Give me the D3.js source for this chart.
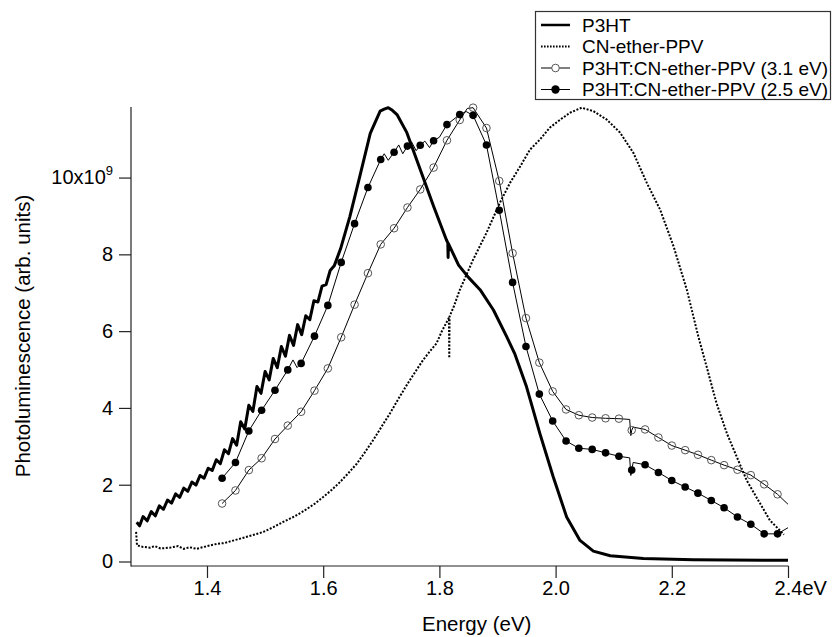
<!DOCTYPE html>
<html>
<head>
<meta charset="utf-8">
<script src="https://cdn.jsdelivr.net/npm/d3@7/dist/d3.min.js"></script>
<style>
body { margin: 0; background: #fff; }
text { font-family: "Liberation Sans", Arial, sans-serif; fill: #000; }
</style>
</head>
<body>
<div id="chart"></div>
<script>
// all intensities in units of 1e9 (arb. units)
var p3htE = [1.279, 1.284, 1.290, 1.297, 1.304, 1.311, 1.318, 1.325, 1.332, 1.339,
    1.346, 1.353, 1.360, 1.367, 1.374, 1.381, 1.388, 1.395, 1.402, 1.409,
    1.416, 1.423, 1.430, 1.437, 1.444, 1.451, 1.458, 1.465, 1.472, 1.479,
    1.486, 1.493, 1.500, 1.507, 1.514, 1.521, 1.528, 1.535, 1.542, 1.549,
    1.556, 1.563, 1.570, 1.577, 1.584, 1.591, 1.598, 1.605, 1.612, 1.619,
    1.630, 1.646, 1.663, 1.681, 1.698, 1.705, 1.712, 1.719, 1.727, 1.744,
    1.767, 1.790, 1.812, 1.8145, 1.815, 1.8155, 1.833, 1.850, 1.870, 1.893,
    1.916, 1.930, 1.950, 1.973, 1.996, 2.019, 2.042, 2.065, 2.094, 2.151,
    2.237, 2.400];
var p3htV = [1.02, 0.93, 1.17, 1.06, 1.30, 1.19, 1.45, 1.36, 1.60, 1.52,
    1.76, 1.67, 1.91, 1.83, 2.07, 1.99, 2.24, 2.17, 2.43, 2.37,
    2.65, 2.55, 2.91, 2.81, 3.20, 3.03, 3.64, 3.45, 4.07, 3.91,
    4.56, 4.38, 4.95, 4.73, 5.29, 5.05, 5.60, 5.35, 5.89, 5.63,
    6.17, 5.91, 6.40, 6.30, 6.79, 6.76, 7.17, 7.21, 7.58, 7.70,
    8.15, 8.99, 10.03, 11.15, 11.73, 11.78, 11.82, 11.75, 11.64, 11.17,
    10.21, 9.25, 8.38, 8.30, 7.92, 8.28, 7.72, 7.40, 7.08, 6.55,
    5.85, 5.40, 4.55, 3.33, 2.20, 1.16, 0.55, 0.27, 0.15, 0.08,
    0.045, 0.03];

var cnE = [1.278, 1.2795, 1.290, 1.302, 1.310, 1.320, 1.336, 1.350, 1.360, 1.370,
    1.382, 1.400, 1.417, 1.430, 1.451, 1.470, 1.497, 1.515, 1.531, 1.550,
    1.566, 1.585, 1.600, 1.615, 1.629, 1.645, 1.658, 1.672, 1.686, 1.700,
    1.715, 1.730, 1.744, 1.758, 1.772, 1.785, 1.795, 1.804, 1.812, 1.8165,
    1.817, 1.8175, 1.825, 1.835, 1.858, 1.881, 1.904, 1.9215, 1.939, 1.956,
    1.973, 1.990, 2.008, 2.025, 2.045, 2.065, 2.088, 2.111, 2.134, 2.157,
    2.180, 2.203, 2.226, 2.246, 2.260, 2.277, 2.295, 2.312, 2.329, 2.352,
    2.369, 2.386, 2.393];
var cnV = [0.77, 0.42, 0.38, 0.36, 0.40, 0.34, 0.36, 0.40, 0.33, 0.37,
    0.33, 0.40, 0.46, 0.48, 0.57, 0.65, 0.77, 0.90, 1.03, 1.17,
    1.31, 1.50, 1.68, 1.87, 2.07, 2.33, 2.55, 2.85, 3.16, 3.50,
    3.86, 4.25, 4.60, 4.93, 5.25, 5.50, 5.68, 5.99, 6.22, 6.35,
    5.30, 6.38, 6.65, 7.07, 7.86, 8.56, 9.34, 9.86, 10.29, 10.73,
    10.99, 11.30, 11.51, 11.69, 11.82, 11.73, 11.51, 11.17, 10.64, 9.86,
    9.16, 8.21, 7.07, 5.84, 5.07, 4.12, 3.33, 2.72, 2.11, 1.51,
    1.07, 0.81, 0.70];

// marker positions shared by both blend spectra
var markerE = [1.426, 1.449, 1.472, 1.494, 1.517, 1.539, 1.562, 1.585, 1.608, 1.631,
    1.654, 1.677, 1.699, 1.722, 1.745, 1.767, 1.790, 1.813, 1.835, 1.858,
    1.881, 1.903, 1.926, 1.949, 1.972, 1.995, 2.018, 2.040, 2.063, 2.086,
    2.109, 2.131, 2.154, 2.177, 2.200, 2.223, 2.245, 2.268, 2.290, 2.313,
    2.336, 2.359, 2.382];
var open31V = [1.51, 1.85, 2.38, 2.69, 3.19, 3.54, 3.90, 4.45, 5.03, 5.84,
    6.69, 7.51, 8.26, 8.68, 9.22, 9.69, 10.26, 10.97, 11.50, 11.82,
    11.29, 9.91, 8.03, 6.34, 5.18, 4.43, 3.96, 3.81, 3.75, 3.73,
    3.72, 3.42, 3.44, 3.23, 3.02, 2.90, 2.78, 2.64, 2.51, 2.39,
    2.25, 2.01, 1.75];
var filled25V = [2.17, 2.58, 3.40, 3.94, 4.46, 4.99, 5.16, 5.87, 6.67, 7.79,
    8.80, 9.74, 10.47, 10.66, 10.82, 10.84, 10.96, 11.38, 11.64, 11.62,
    10.85, 9.15, 7.27, 5.60, 4.36, 3.66, 3.14, 2.95, 2.92, 2.83,
    2.74, 2.38, 2.52, 2.32, 2.11, 1.94, 1.78, 1.59, 1.40, 1.16,
    0.97, 0.72, 0.72];

// line points between markers (dip near 2.13 eV, noise, tail to 2.4 eV)
var open31ExtraE = [1.848, 2.1275, 2.1295, 2.1335, 2.400];
var open31ExtraV = [11.80, 3.70, 3.28, 3.50, 1.49];
var filled25ExtraE = [1.548, 1.555, 1.705, 1.712, 1.730, 1.737, 1.752, 1.760, 1.775, 1.783,
    1.800, 1.846, 2.1275, 2.1295, 2.1335, 2.400];
var filled25ExtraV = [5.25, 5.05, 10.62, 10.45, 10.85, 10.62, 10.93, 10.70, 10.95, 10.78,
    11.05, 11.72, 2.70, 2.24, 2.58, 0.88];

var xTicks = [1.4, 1.6, 1.8, 2.0, 2.2, 2.4];
var yTicks = [0, 2, 4, 6, 8, 10];
var legendNames = ["P3HT", "CN-ether-PPV", "P3HT:CN-ether-PPV (3.1 eV)", "P3HT:CN-ether-PPV (2.5 eV)"];

var width = 834, height = 637;

var svg = d3.select("#chart").append("svg")
    .attr("width", width)
    .attr("height", height);

var x = d3.scaleLinear()
    .domain([1.2692, 2.4])
    .range([131, 788]);

var y = d3.scaleLinear()
    .domain([0, 11.83])
    .range([561.5, 107.3]);

function pairs(es, vs) {
    return es.map(function (e, i) { return [e, vs[i]]; });
}
function byE(a, b) { return a[0] - b[0]; }

var p3ht = pairs(p3htE, p3htV);
var cn = pairs(cnE, cnV);
var openMarks = pairs(markerE, open31V);
var filledMarks = pairs(markerE, filled25V);
var openLine = openMarks.concat(pairs(open31ExtraE, open31ExtraV)).sort(byE);
var filledLine = filledMarks.concat(pairs(filled25ExtraE, filled25ExtraV)).sort(byE);

var line = d3.line()
    .x(function (d) { return x(d[0]); })
    .y(function (d) { return y(d[1]); });

// axes
var xAxis = d3.axisBottom(x)
    .tickValues(xTicks)
    .tickSize(12)
    .tickPadding(3)
    .tickFormat(function (d) { return d.toFixed(1); });

var gx = svg.append("g")
    .attr("class", "x-axis")
    .attr("transform", "translate(0,566)")
    .call(xAxis);
gx.select(".domain").remove();
gx.append("line")
    .attr("x1", 131).attr("x2", x(2.4) + 0.5)
    .attr("y1", 0).attr("y2", 0)
    .attr("stroke", "#222").attr("stroke-width", 1.2);
gx.selectAll(".tick line").attr("stroke", "#222").attr("stroke-width", 1.2);
gx.selectAll(".tick text")
    .attr("font-size", 20)
    .attr("fill", "#000");

// "2.4" gets the unit appended, Igor style
var lastTick = gx.selectAll(".tick").filter(function (d) { return d === 2.4; });
var lastText = lastTick.select("text");
var lw = lastText.node().getComputedTextLength();
lastTick.append("text")
    .attr("x", lw / 2)
    .attr("y", lastText.attr("y"))
    .attr("dy", lastText.attr("dy"))
    .attr("font-size", 20)
    .attr("text-anchor", "start")
    .text("eV");

var yAxis = d3.axisLeft(y)
    .tickValues(yTicks)
    .tickSize(12)
    .tickPadding(6)
    .tickFormat(function (d) { return d === 10 ? "" : d; });

var gy = svg.append("g")
    .attr("class", "y-axis")
    .attr("transform", "translate(131,0)")
    .call(yAxis);
gy.select(".domain").remove();
gy.append("line")
    .attr("x1", 0).attr("x2", 0)
    .attr("y1", 107).attr("y2", 566.5)
    .attr("stroke", "#222").attr("stroke-width", 1.2);
gy.selectAll(".tick line").attr("stroke", "#222").attr("stroke-width", 1.2);
gy.selectAll(".tick text")
    .attr("font-size", 20)
    .attr("fill", "#000");

var tenLabel = gy.selectAll(".tick").filter(function (d) { return d === 10; }).select("text");
tenLabel.append("tspan").text("10x10");
tenLabel.append("tspan").attr("dy", -9).attr("font-size", 13).text("9");

svg.append("text")
    .attr("x", 476.7)
    .attr("y", 631)
    .attr("text-anchor", "middle")
    .attr("font-size", 20.5)
    .text("Energy (eV)");

svg.append("text")
    .attr("transform", "translate(30,336) rotate(-90)")
    .attr("text-anchor", "middle")
    .attr("font-size", 20.5)
    .text("Photoluminescence (arb. units)");

// curves
var plot = svg.append("g");

plot.append("path")
    .datum(cn)
    .attr("fill", "none")
    .attr("stroke", "#000")
    .attr("stroke-width", 2)
    .attr("stroke-dasharray", "2,1.6")
    .attr("d", line);

plot.append("path")
    .datum(p3ht)
    .attr("fill", "none")
    .attr("stroke", "#000")
    .attr("stroke-width", 3)
    .attr("stroke-linejoin", "round")
    .attr("d", line);

plot.append("path")
    .datum(openLine)
    .attr("fill", "none")
    .attr("stroke", "#000")
    .attr("stroke-width", 1)
    .attr("d", line);

plot.append("path")
    .datum(filledLine)
    .attr("fill", "none")
    .attr("stroke", "#000")
    .attr("stroke-width", 1)
    .attr("d", line);

plot.selectAll(".open-mark")
    .data(openMarks)
    .enter()
    .append("circle")
    .attr("class", "open-mark")
    .attr("cx", function (d) { return x(d[0]); })
    .attr("cy", function (d) { return y(d[1]); })
    .attr("r", 3.8)
    .attr("fill", "none")
    .attr("stroke", "#555")
    .attr("stroke-width", 1);

plot.selectAll(".filled-mark")
    .data(filledMarks)
    .enter()
    .append("circle")
    .attr("class", "filled-mark")
    .attr("cx", function (d) { return x(d[0]); })
    .attr("cy", function (d) { return y(d[1]); })
    .attr("r", 3.8)
    .attr("fill", "#000");

// legend
var legend = svg.append("g").attr("class", "legend");
legend.append("rect")
    .attr("x", 535.5).attr("y", 11.5)
    .attr("width", 295).attr("height", 88)
    .attr("fill", "#fff")
    .attr("stroke", "#333")
    .attr("stroke-width", 1.2);

var rowY = [25, 46.5, 68, 89.5];
legendNames.forEach(function (name, i) {
    var ly = rowY[i];
    var g = legend.append("g");
    var sample = g.append("line")
        .attr("x1", 541).attr("x2", 570)
        .attr("y1", ly).attr("y2", ly)
        .attr("stroke", "#000");
    if (i === 0) sample.attr("stroke-width", 2.5);
    if (i === 1) sample.attr("stroke-width", 2).attr("stroke-dasharray", "1.6,1.4");
    if (i >= 2) sample.attr("stroke-width", 1);
    if (i === 2) {
        g.append("circle").attr("cx", 555.5).attr("cy", ly).attr("r", 3.8)
            .attr("fill", "#fff").attr("stroke", "#555");
    }
    if (i === 3) {
        g.append("circle").attr("cx", 555.5).attr("cy", ly).attr("r", 4.2)
            .attr("fill", "#000");
    }
    g.append("text")
        .attr("x", 582)
        .attr("y", ly)
        .attr("dy", "0.35em")
        .attr("font-size", 19)
        .text(name);
});
</script>
</body>
</html>
